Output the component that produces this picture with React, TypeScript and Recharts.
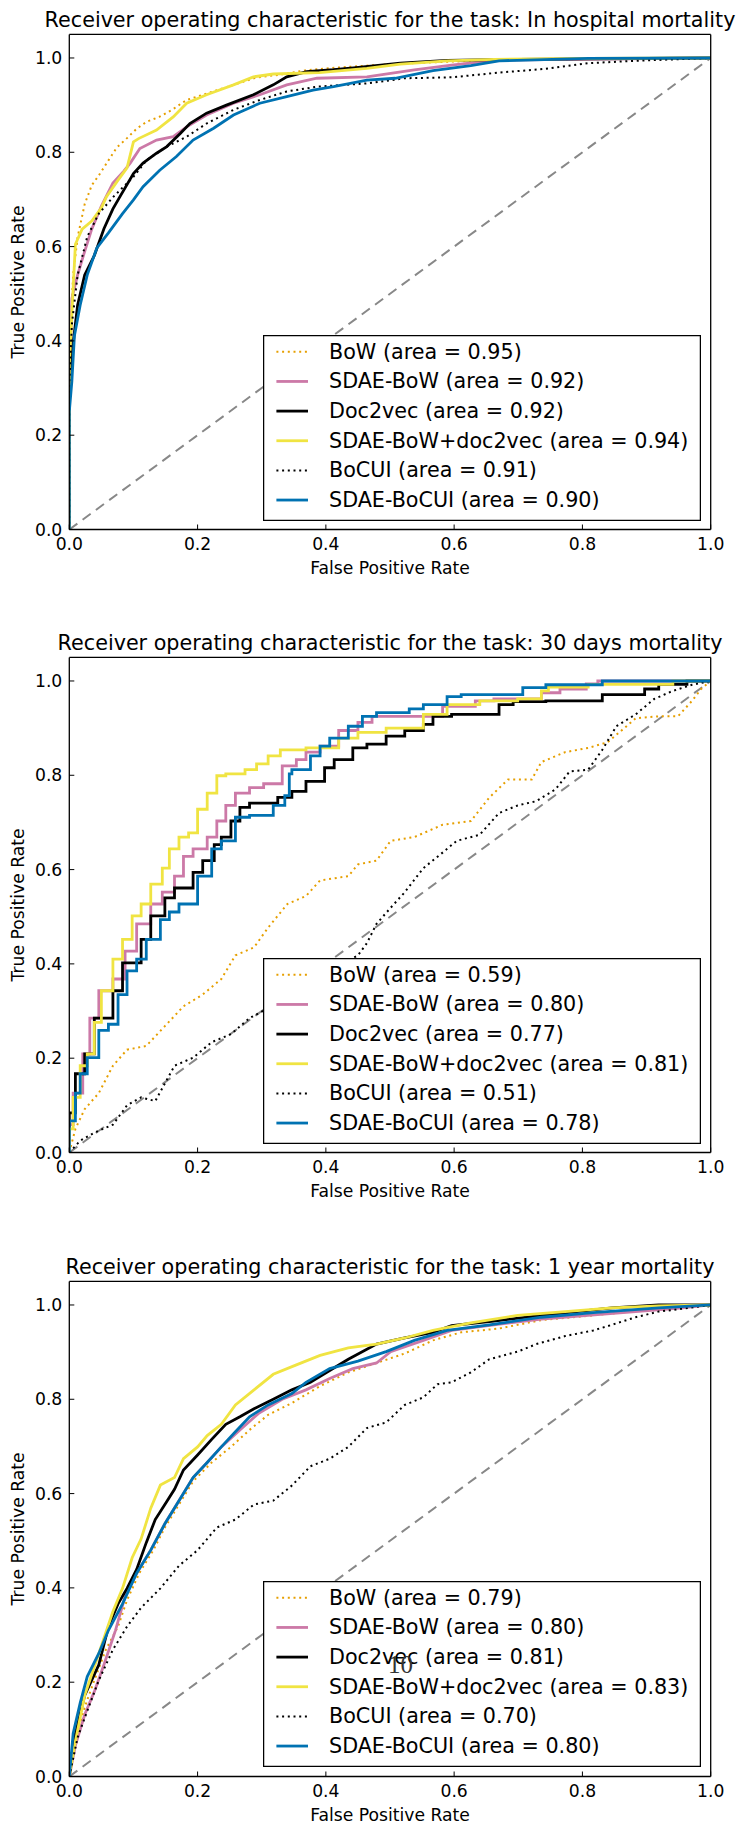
import React from 'react';
import { Legend, Line, LineChart, XAxis, YAxis } from 'recharts';

type Pt = [number, number];

const seriesNames = ['BoW', 'SDAE-BoW', 'Doc2vec', 'SDAE-BoW+doc2vec', 'BoCUI', 'SDAE-BoCUI'];
const taskNames = ['In hospital mortality', '30 days mortality', '1 year mortality'];
const hospAreas = [0.95, 0.92, 0.92, 0.94, 0.91, 0.9];
const days30Areas = [0.59, 0.8, 0.77, 0.81, 0.51, 0.78];
const year1Areas = [0.79, 0.8, 0.81, 0.83, 0.7, 0.8];
const axisTicks = [0, 0.2, 0.4, 0.6, 0.8, 1.0];
const chanceLine: Pt[] = [[0, 0], [1, 1]];

// in hospital mortality
const hospBoW: Pt[] = [[0, 0], [0, 0.3], [0.002, 0.43], [0.006, 0.54], [0.013, 0.62], [0.024, 0.69], [0.035, 0.73], [0.048, 0.755], [0.062, 0.785], [0.074, 0.81], [0.09, 0.83], [0.105, 0.85], [0.121, 0.865], [0.14, 0.875], [0.16, 0.89], [0.183, 0.911], [0.215, 0.925], [0.256, 0.943], [0.29, 0.958], [0.33, 0.965], [0.37, 0.974], [0.41, 0.979], [0.48, 0.985], [0.55, 0.99], [0.63, 0.994], [0.7, 0.996], [0.81, 0.998], [1, 1]];
const hospSdaeBoW: Pt[] = [[0, 0], [0, 0.28], [0.004, 0.49], [0.013, 0.54], [0.024, 0.59], [0.035, 0.637], [0.05, 0.686], [0.068, 0.735], [0.085, 0.76], [0.095, 0.777], [0.11, 0.808], [0.136, 0.826], [0.162, 0.833], [0.183, 0.854], [0.214, 0.879], [0.256, 0.904], [0.297, 0.922], [0.339, 0.943], [0.386, 0.957], [0.464, 0.96], [0.538, 0.975], [0.596, 0.985], [0.662, 0.995], [0.773, 0.997], [1, 1]];
const hospDoc2vec: Pt[] = [[0, 0], [0, 0.3], [0.006, 0.395], [0.013, 0.476], [0.024, 0.54], [0.039, 0.581], [0.054, 0.638], [0.068, 0.68], [0.079, 0.706], [0.1, 0.755], [0.115, 0.777], [0.136, 0.798], [0.152, 0.812], [0.173, 0.84], [0.188, 0.861], [0.214, 0.883], [0.245, 0.9], [0.287, 0.922], [0.318, 0.943], [0.339, 0.96], [0.37, 0.971], [0.412, 0.975], [0.443, 0.979], [0.516, 0.989], [0.589, 0.995], [0.699, 0.997], [1, 1]];
const hospSdaeMix: Pt[] = [[0, 0], [0, 0.35], [0.0095, 0.605], [0.02, 0.637], [0.035, 0.654], [0.05, 0.682], [0.058, 0.706], [0.076, 0.741], [0.09, 0.767], [0.1, 0.822], [0.108, 0.829], [0.136, 0.847], [0.162, 0.875], [0.183, 0.904], [0.214, 0.922], [0.256, 0.943], [0.287, 0.96], [0.318, 0.966], [0.39, 0.969], [0.464, 0.978], [0.516, 0.987], [0.589, 0.994], [0.662, 0.997], [0.81, 0.999], [1, 1]];
const hospBoCUI: Pt[] = [[0, 0], [0, 0.3], [0.004, 0.435], [0.013, 0.54], [0.028, 0.621], [0.046, 0.67], [0.069, 0.706], [0.1, 0.748], [0.121, 0.784], [0.152, 0.812], [0.183, 0.833], [0.214, 0.861], [0.256, 0.89], [0.297, 0.911], [0.339, 0.929], [0.386, 0.939], [0.464, 0.946], [0.523, 0.957], [0.596, 0.959], [0.67, 0.969], [0.743, 0.977], [0.809, 0.989], [0.883, 0.994], [1, 1]];
const hospSdaeBoCUI: Pt[] = [[0, 0], [0, 0.25], [0.004, 0.314], [0.008, 0.411], [0.017, 0.476], [0.028, 0.54], [0.043, 0.597], [0.061, 0.629], [0.083, 0.67], [0.1, 0.699], [0.115, 0.727], [0.141, 0.762], [0.167, 0.791], [0.193, 0.826], [0.225, 0.851], [0.256, 0.879], [0.297, 0.904], [0.339, 0.918], [0.38, 0.932], [0.412, 0.939], [0.464, 0.953], [0.508, 0.957], [0.567, 0.973], [0.626, 0.984], [0.67, 0.994], [0.809, 0.999], [1, 1]];

// 30 days mortality
const days30BoW: Pt[] = [[0, 0], [0.0095, 0.05], [0.024, 0.092], [0.046, 0.126], [0.068, 0.184], [0.09, 0.218], [0.12, 0.226], [0.149, 0.268], [0.178, 0.31], [0.208, 0.335], [0.237, 0.368], [0.259, 0.418], [0.288, 0.435], [0.31, 0.477], [0.34, 0.527], [0.369, 0.544], [0.391, 0.577], [0.435, 0.586], [0.45, 0.611], [0.479, 0.619], [0.501, 0.661], [0.538, 0.669], [0.582, 0.695], [0.626, 0.703], [0.655, 0.753], [0.684, 0.791], [0.721, 0.791], [0.736, 0.828], [0.773, 0.849], [0.809, 0.858], [0.839, 0.87], [0.861, 0.895], [0.883, 0.921], [0.919, 0.925], [0.949, 0.925], [0.971, 0.958], [0.985, 0.983], [1, 1]];
const days30SdaeBoW: Pt[] = [[0, 0], [0.006, 0.059], [0.021, 0.126], [0.032, 0.209], [0.046, 0.285], [0.068, 0.343], [0.087, 0.368], [0.105, 0.427], [0.127, 0.485], [0.145, 0.527], [0.164, 0.552], [0.178, 0.586], [0.193, 0.628], [0.215, 0.644], [0.23, 0.669], [0.244, 0.703], [0.259, 0.736], [0.281, 0.762], [0.303, 0.774], [0.332, 0.782], [0.354, 0.82], [0.369, 0.833], [0.391, 0.849], [0.42, 0.862], [0.45, 0.895], [0.472, 0.912], [0.501, 0.925], [0.582, 0.925], [0.633, 0.946], [0.662, 0.958], [0.736, 0.962], [0.765, 0.975], [0.806, 0.983], [0.824, 0.994], [0.846, 1], [1, 1]];
const days30Doc2vec: Pt[] = [[0, 0], [0.0095, 0.084], [0.024, 0.167], [0.039, 0.209], [0.054, 0.285], [0.068, 0.285], [0.083, 0.343], [0.098, 0.402], [0.112, 0.402], [0.127, 0.452], [0.149, 0.502], [0.164, 0.54], [0.193, 0.561], [0.208, 0.594], [0.226, 0.619], [0.237, 0.653], [0.252, 0.669], [0.266, 0.703], [0.281, 0.732], [0.325, 0.741], [0.347, 0.753], [0.369, 0.766], [0.398, 0.787], [0.413, 0.816], [0.442, 0.833], [0.464, 0.858], [0.494, 0.866], [0.523, 0.883], [0.552, 0.895], [0.567, 0.908], [0.596, 0.925], [0.67, 0.929], [0.692, 0.95], [0.743, 0.956], [0.831, 0.958], [0.897, 0.971], [0.919, 0.983], [0.963, 0.993], [0.985, 1], [1, 1]];
const days30SdaeMix: Pt[] = [[0, 0], [0.006, 0.05], [0.017, 0.117], [0.028, 0.184], [0.039, 0.209], [0.05, 0.276], [0.068, 0.343], [0.083, 0.41], [0.098, 0.452], [0.112, 0.502], [0.127, 0.527], [0.145, 0.569], [0.156, 0.603], [0.171, 0.644], [0.186, 0.669], [0.2, 0.678], [0.215, 0.728], [0.23, 0.762], [0.244, 0.799], [0.274, 0.803], [0.292, 0.812], [0.31, 0.824], [0.329, 0.841], [0.369, 0.854], [0.42, 0.858], [0.45, 0.879], [0.494, 0.891], [0.552, 0.9], [0.589, 0.929], [0.64, 0.95], [0.699, 0.958], [0.736, 0.962], [0.747, 0.979], [0.809, 0.987], [0.828, 0.993], [0.941, 0.993], [0.945, 1], [1, 1]];
const days30BoCUI: Pt[] = [[0, 0], [0.017, 0.025], [0.039, 0.042], [0.068, 0.059], [0.09, 0.1], [0.112, 0.117], [0.134, 0.109], [0.164, 0.184], [0.193, 0.201], [0.222, 0.234], [0.252, 0.251], [0.281, 0.285], [0.303, 0.301], [0.332, 0.335], [0.45, 0.418], [0.464, 0.444], [0.479, 0.485], [0.501, 0.519], [0.523, 0.552], [0.552, 0.603], [0.582, 0.636], [0.604, 0.661], [0.64, 0.674], [0.67, 0.72], [0.699, 0.736], [0.728, 0.745], [0.758, 0.77], [0.78, 0.808], [0.809, 0.812], [0.831, 0.854], [0.853, 0.904], [0.883, 0.929], [0.912, 0.962], [0.941, 0.979], [0.971, 0.992], [1, 1]];
const days30SdaeBoCUI: Pt[] = [[0, 0], [0.0095, 0.067], [0.017, 0.126], [0.028, 0.167], [0.046, 0.201], [0.061, 0.259], [0.076, 0.272], [0.09, 0.335], [0.105, 0.385], [0.12, 0.41], [0.142, 0.452], [0.156, 0.494], [0.171, 0.51], [0.2, 0.527], [0.222, 0.586], [0.237, 0.644], [0.259, 0.661], [0.281, 0.711], [0.318, 0.715], [0.336, 0.736], [0.343, 0.757], [0.347, 0.803], [0.376, 0.812], [0.391, 0.841], [0.406, 0.862], [0.435, 0.879], [0.457, 0.904], [0.479, 0.925], [0.53, 0.933], [0.552, 0.941], [0.589, 0.95], [0.611, 0.967], [0.707, 0.971], [0.743, 0.986], [0.831, 0.992], [0.861, 1], [1, 1]];

// 1 year mortality
const year1BoW: Pt[] = [[0, 0], [0.0095, 0.075], [0.024, 0.147], [0.039, 0.204], [0.057, 0.269], [0.076, 0.318], [0.09, 0.374], [0.109, 0.431], [0.131, 0.48], [0.149, 0.528], [0.171, 0.577], [0.193, 0.626], [0.222, 0.666], [0.252, 0.699], [0.281, 0.735], [0.31, 0.767], [0.347, 0.792], [0.391, 0.828], [0.435, 0.857], [0.479, 0.877], [0.523, 0.897], [0.567, 0.925], [0.611, 0.942], [0.67, 0.95], [0.736, 0.968], [0.817, 0.978], [0.919, 0.992], [1, 1]];
const year1SdaeBoW: Pt[] = [[0, 0], [0.0095, 0.066], [0.024, 0.131], [0.039, 0.18], [0.054, 0.237], [0.072, 0.31], [0.087, 0.382], [0.105, 0.431], [0.127, 0.48], [0.149, 0.536], [0.171, 0.585], [0.193, 0.634], [0.215, 0.666], [0.237, 0.699], [0.266, 0.735], [0.296, 0.771], [0.332, 0.8], [0.369, 0.82], [0.406, 0.844], [0.442, 0.865], [0.479, 0.877], [0.501, 0.901], [0.552, 0.925], [0.596, 0.946], [0.662, 0.958], [0.736, 0.97], [0.809, 0.978], [0.883, 0.986], [0.956, 0.994], [1, 1]];
const year1Doc2vec: Pt[] = [[0, 0], [0.0095, 0.091], [0.024, 0.172], [0.046, 0.237], [0.061, 0.318], [0.076, 0.366], [0.09, 0.399], [0.105, 0.439], [0.12, 0.496], [0.134, 0.545], [0.149, 0.577], [0.164, 0.609], [0.178, 0.65], [0.2, 0.682], [0.222, 0.715], [0.244, 0.747], [0.266, 0.763], [0.288, 0.78], [0.318, 0.8], [0.347, 0.82], [0.376, 0.836], [0.406, 0.861], [0.435, 0.885], [0.479, 0.917], [0.523, 0.93], [0.567, 0.942], [0.596, 0.956], [0.662, 0.966], [0.736, 0.978], [0.846, 0.994], [0.919, 1], [1, 1]];
const year1SdaeMix: Pt[] = [[0, 0], [0.0095, 0.075], [0.024, 0.172], [0.046, 0.261], [0.068, 0.35], [0.083, 0.399], [0.098, 0.464], [0.112, 0.504], [0.127, 0.569], [0.142, 0.618], [0.164, 0.634], [0.178, 0.674], [0.2, 0.699], [0.215, 0.723], [0.237, 0.747], [0.259, 0.788], [0.288, 0.82], [0.318, 0.853], [0.354, 0.873], [0.391, 0.893], [0.435, 0.909], [0.479, 0.917], [0.523, 0.93], [0.567, 0.946], [0.626, 0.962], [0.699, 0.978], [0.773, 0.986], [0.846, 0.994], [0.919, 0.998], [1, 1]];
const year1BoCUI: Pt[] = [[0, 0], [0.013, 0.083], [0.028, 0.139], [0.046, 0.204], [0.068, 0.269], [0.09, 0.318], [0.112, 0.358], [0.142, 0.399], [0.171, 0.447], [0.2, 0.48], [0.23, 0.528], [0.259, 0.545], [0.288, 0.577], [0.318, 0.585], [0.347, 0.617], [0.376, 0.658], [0.406, 0.674], [0.435, 0.699], [0.464, 0.739], [0.494, 0.751], [0.523, 0.788], [0.552, 0.804], [0.574, 0.832], [0.596, 0.836], [0.626, 0.857], [0.655, 0.885], [0.699, 0.901], [0.728, 0.917], [0.773, 0.934], [0.817, 0.946], [0.846, 0.958], [0.883, 0.974], [0.919, 0.986], [0.956, 0.992], [1, 1]];
const year1SdaeBoCUI: Pt[] = [[0, 0], [0.006, 0.091], [0.017, 0.156], [0.028, 0.212], [0.046, 0.261], [0.061, 0.31], [0.083, 0.366], [0.105, 0.431], [0.127, 0.48], [0.149, 0.536], [0.171, 0.585], [0.193, 0.634], [0.215, 0.666], [0.237, 0.699], [0.259, 0.731], [0.281, 0.763], [0.31, 0.788], [0.347, 0.812], [0.369, 0.836], [0.406, 0.865], [0.45, 0.881], [0.494, 0.901], [0.538, 0.925], [0.589, 0.946], [0.655, 0.958], [0.736, 0.974], [0.817, 0.984], [0.919, 0.994], [1, 1]];

const seriesStyles = [
  { color: '#E69F00', width: 2, dash: '2 3.7' },
  { color: '#CC79A7', width: 2.8, dash: undefined },
  { color: '#000000', width: 2.8, dash: undefined },
  { color: '#F0E442', width: 2.8, dash: undefined },
  { color: '#000000', width: 2, dash: '2 3.7' },
  { color: '#0072B2', width: 2.8, dash: undefined },
];

const FONT = 'DejaVu Sans';
const PANEL_STEP = 623.3;
const tickStyle = { fontSize: 17.2, fontFamily: FONT, fill: '#000' };
const fmt = (v: number) => v.toFixed(1);
const toRows = (pts: Pt[]) => pts.map(([x, y]) => ({ x, y }));

const LegendBox: React.FC<{ areas: number[] }> = ({ areas }) => (
  <svg width={438} height={186} style={{ display: 'block' }}>
    <rect x={0.6} y={0.6} width={436.8} height={184.8} fill="#fff" stroke="#000" strokeWidth={1.3} />
    {seriesNames.map((name, i) => {
      const base = 23.6 + i * 29.65;
      const st = seriesStyles[i];
      return (
        <g key={name}>
          <line x1={13.4} x2={45} y1={base - 6.8} y2={base - 6.8} stroke={st.color}
            strokeWidth={st.width} strokeDasharray={st.dash} />
          <text x={66} y={base} fontSize={20.7} fontFamily={FONT} fill="#000">
            {`${name} (area = ${areas[i].toFixed(2)})`}
          </text>
        </g>
      );
    })}
  </svg>
);

type CurveType = 'linear' | 'stepBefore';

// solid curves of the coarse panel are drawn as a staircase, dotted ones stay linear
const RocPanel: React.FC<{ task: string; areas: number[]; curves: Pt[][]; top: number; solidType: CurveType }> = ({ task, areas, curves, top, solidType }) => (
  <div style={{ position: 'absolute', left: 0, top, width: 738, height: 600 }}>
    <div style={{
      position: 'absolute', left: 390, top: 8.2, transform: 'translateX(-50%)',
      whiteSpace: 'nowrap', fontSize: 20.7, lineHeight: '24px', color: '#000',
    }}>
      Receiver operating characteristic for the task: {task}
    </div>
    <LineChart width={738} height={600} margin={{ top: 33.4, right: 26.3, bottom: 26.5, left: 9.3 }}>
      <XAxis xAxisId="bottom" type="number" dataKey="x" domain={[0, 1]} allowDataOverflow
        ticks={axisTicks} tickFormatter={fmt} height={44} stroke="#000" tickSize={-5} tickMargin={13.3}
        tick={tickStyle} axisLine={{ strokeWidth: 1.3 }}
        label={{ value: 'False Positive Rate', position: 'insideBottom', offset: 0, fontSize: 17.2, fontFamily: FONT, fill: '#000' }} />
      <XAxis xAxisId="top" orientation="top" type="number" dataKey="x" domain={[0, 1]} allowDataOverflow
        ticks={axisTicks} height={1} stroke="#000" tickSize={-5} tick={false} axisLine={{ strokeWidth: 1.3 }} />
      <YAxis yAxisId="left" type="number" dataKey="y" domain={[0, 1.05]} allowDataOverflow
        ticks={axisTicks} tickFormatter={fmt} width={60} stroke="#000" tickSize={-5} tickMargin={12}
        tick={tickStyle} axisLine={{ strokeWidth: 1.3 }}
        label={{
          value: 'True Positive Rate', angle: -90, position: 'insideLeft', offset: 9,
          fontSize: 17.2, fontFamily: FONT, fill: '#000', style: { textAnchor: 'middle' },
        }} />
      <YAxis yAxisId="right" orientation="right" type="number" dataKey="y" domain={[0, 1.05]} allowDataOverflow
        ticks={axisTicks} width={1} stroke="#000" tickSize={-5} tick={false} axisLine={{ strokeWidth: 1.3 }} />
      <Line xAxisId="top" yAxisId="right" data={toRows(chanceLine)} dataKey="y" type="linear"
        stroke="#888" strokeWidth={2} strokeDasharray="10 6.5" dot={false} activeDot={false}
        legendType="none" isAnimationActive={false} />
      {curves.map((pts, i) => (
        <Line key={seriesNames[i]} name={seriesNames[i]} xAxisId="bottom" yAxisId="left"
          data={toRows(pts)} dataKey="y" type={seriesStyles[i].dash ? 'linear' : solidType}
          stroke={seriesStyles[i].color}
          strokeWidth={seriesStyles[i].width} strokeDasharray={seriesStyles[i].dash}
          dot={false} activeDot={false} isAnimationActive={false} />
      ))}
      <Legend layout="vertical" align="center" verticalAlign="middle"
        wrapperStyle={{ left: 263.3, top: 334.7, width: 438, height: 186 }}
        content={() => <LegendBox areas={areas} />} />
    </LineChart>
  </div>
);

export default function App() {
  return (
    <div style={{ position: 'relative', width: 738, height: 1821, overflow: 'hidden', background: '#fff', fontFamily: FONT }}>
      <style>{'body{margin:0}'}</style>
      <RocPanel task={taskNames[0]} areas={hospAreas} top={0} solidType="linear"
        curves={[hospBoW, hospSdaeBoW, hospDoc2vec, hospSdaeMix, hospBoCUI, hospSdaeBoCUI]} />
      <RocPanel task={taskNames[1]} areas={days30Areas} top={PANEL_STEP} solidType="stepBefore"
        curves={[days30BoW, days30SdaeBoW, days30Doc2vec, days30SdaeMix, days30BoCUI, days30SdaeBoCUI]} />
      <RocPanel task={taskNames[2]} areas={year1Areas} top={PANEL_STEP * 2} solidType="linear"
        curves={[year1BoW, year1SdaeBoW, year1Doc2vec, year1SdaeMix, year1BoCUI, year1SdaeBoCUI]} />
      <div style={{
        position: 'absolute', left: 388, top: 1652, fontFamily: 'Liberation Serif',
        fontSize: 25, lineHeight: '25px', color: '#333',
      }}>10</div>
    </div>
  );
}
